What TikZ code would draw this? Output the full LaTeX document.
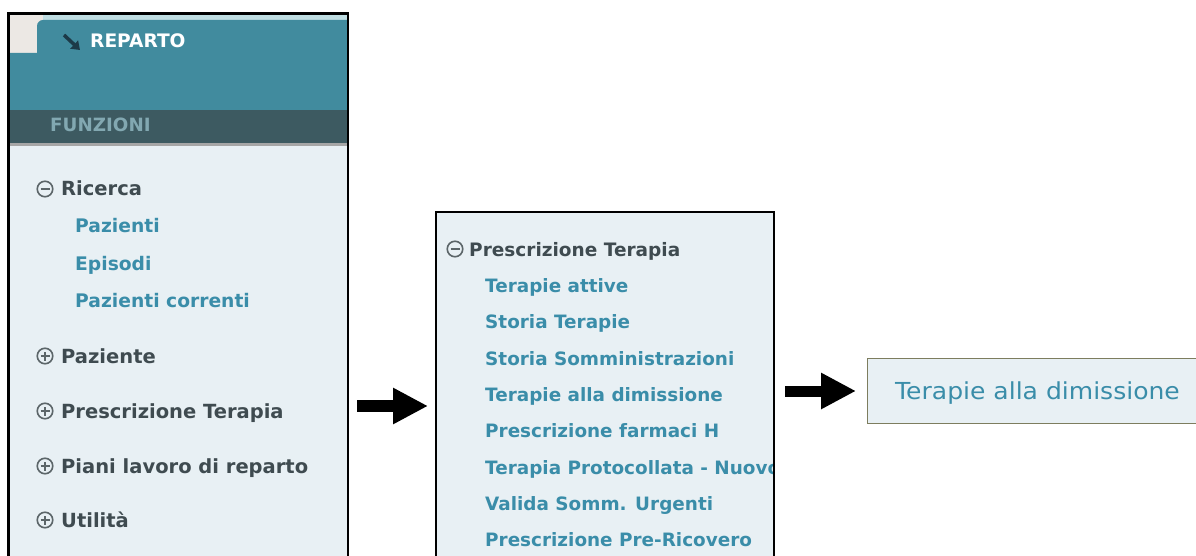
\documentclass[tikz,border=0pt]{standalone}
\usepackage{fontspec}
\newfontfamily\ui{DejaVu Sans}
\newfontfamily\uiwide[FakeStretch=1.07]{DejaVu Sans}
\usetikzlibrary{arrows.meta}
\definecolor{tealband}{HTML}{418B9E}
\definecolor{darkband}{HTML}{3D5A61}
\definecolor{panelbg}{HTML}{E8F0F4}
\definecolor{headtxt}{HTML}{3F4B50}
\definecolor{linktxt}{HTML}{3A8DA9}
\definecolor{funz}{HTML}{82A8B1}
\definecolor{beige}{HTML}{ECE8E4}
\definecolor{topstrip}{HTML}{BFDDE2}
\definecolor{boxline}{HTML}{7D7D5E}
\definecolor{iconcol}{HTML}{5C6669}
\definecolor{arrowdark}{HTML}{1C3A48}
\tikzset{
  head/.style={anchor=base west, inner sep=0pt, text=headtxt, font=\ui\bfseries\fontsize{19.5}{22}\selectfont},
  headm/.style={anchor=base west, inner sep=0pt, text=headtxt, font=\ui\bfseries\fontsize{18.5}{22}\selectfont},
  link/.style={anchor=base west, inner sep=0pt, text=linktxt, font=\ui\bfseries\fontsize{18.7}{22}\selectfont},
  linkm/.style={anchor=base west, inner sep=0pt, text=linktxt, font=\ui\bfseries\fontsize{18.4}{22}\selectfont},
  iconc/.style={circle, draw=iconcol, line width=1.6pt, minimum size=15.5pt, inner sep=0pt},
  sign/.style={draw=iconcol, line width=1.6pt},
  panelborder/.style={line width=2.6pt, draw=black},
  bigarrow/.style={line width=12pt, -{Triangle[length=35pt,width=34pt]}},
}
\begin{document}
\begin{tikzpicture}[x=1pt,y=-1pt]
\useasboundingbox (0,0) rectangle (1196,556);
\fill[white] (0,0) rectangle (1196,556);

% ---------- left panel ----------
\fill[panelbg] (9,145) rectangle (348,600);
\fill[beige] (9,13) rectangle (43,53);
\fill[topstrip] (43,13) rectangle (348,20);
\fill[tealband] (348,20) -- (43,20) arc (270:180:6) -- (37,53) -- (9,53) -- (9,110) -- (348,110) -- cycle;
\fill[darkband] (9,110) rectangle (348,145);
\fill[black!35] (9,143) rectangle (348,146);
\draw[arrowdark, line width=3.5pt, -{Triangle[length=8pt,width=11pt]}] (64,35) -- (80,50);
\node[anchor=base west, inner sep=0pt, text=white, font=\ui\bfseries\fontsize{18.6}{22}\selectfont] (rep) at (90,48) {REPARTO};
\node[anchor=base west, inner sep=0pt, text=funz, font=\ui\bfseries\fontsize{18.3}{22}\selectfont] (fun) at (50,132) {FUNZIONI};

\node[iconc] (ic1) at (45,189) {};
\draw[sign] ([xshift=-4.5pt]ic1.center) -- ([xshift=4.5pt]ic1.center);
\node[head] (ric) at (61,196) {Ricerca};
\node[link] (paz) at (75,233) {Pazienti};
\node[link] (epi) at (75,270) {Episodi};
\node[link] (pco) at (75,307) {Pazienti correnti};

\node[iconc] (ic2) at (45,356) {};
\draw[sign] ([xshift=-4.5pt]ic2.center) -- ([xshift=4.5pt]ic2.center);
\draw[sign] ([yshift=-4.5pt]ic2.center) -- ([yshift=4.5pt]ic2.center);
\node[head] (pzt) at (61,363) {Paziente};

\node[iconc] (ic3) at (45,411) {};
\draw[sign] ([xshift=-4.5pt]ic3.center) -- ([xshift=4.5pt]ic3.center);
\draw[sign] ([yshift=-4.5pt]ic3.center) -- ([yshift=4.5pt]ic3.center);
\node[head] (pre) at (61,418) {Prescrizione Terapia};

\node[iconc] (ic4) at (45,466) {};
\draw[sign] ([xshift=-4.5pt]ic4.center) -- ([xshift=4.5pt]ic4.center);
\draw[sign] ([yshift=-4.5pt]ic4.center) -- ([yshift=4.5pt]ic4.center);
\node[head] (pia) at (61,473) {Piani lavoro di reparto};

\node[iconc] (ic5) at (45,520) {};
\draw[sign] ([xshift=-4.5pt]ic5.center) -- ([xshift=4.5pt]ic5.center);
\draw[sign] ([yshift=-4.5pt]ic5.center) -- ([yshift=4.5pt]ic5.center);
\node[head] (uti) at (61,527) {Utilità};

\draw[panelborder] (8.5,600) -- (8.5,13.5) -- (348,13.5) -- (348,600);

% ---------- middle panel ----------
\fill[panelbg] (436,212) rectangle (774,600);
\begin{scope}
\clip (437,213) rectangle (773,556);
\node[iconc] (ic6) at (455,249) {};
\draw[sign] ([xshift=-4.5pt]ic6.center) -- ([xshift=4.5pt]ic6.center);
\node[headm] (mh) at (469,256) {Prescrizione Terapia};
\node[linkm] (m1) at (485,292) {Terapie attive};
\node[linkm] (m2) at (485,328) {Storia Terapie};
\node[linkm] (m3) at (485,365) {Storia Somministrazioni};
\node[linkm] (m4) at (485,401) {Terapie alla dimissione};
\node[linkm] (m5) at (485,437) {Prescrizione farmaci H};
\node[linkm] (m6) at (485,474) {Terapia Protocollata - Nuovo};
\node[linkm] (m7) at (485,510) {Valida Somm. Urgenti};
\node[linkm] (m8) at (485,546) {Prescrizione Pre-Ricovero};
\end{scope}
\draw[panelborder] (436,600) -- (436,212) -- (774,212) -- (774,600);

% ---------- right box ----------
\node[draw=boxline, fill=panelbg, line width=1.3pt, anchor=north west, minimum width=380pt, minimum height=65pt, inner sep=0pt] (rb) at (867,358) {};
\node[anchor=base, inner sep=0pt, text=linktxt, font=\uiwide\fontsize{23.4}{26}\selectfont] (rbt) at (1037.5,399) {Terapie alla dimissione};

% ---------- arrows ----------
\coordinate (a1s) at (357,406);
\coordinate (a1e) at (428,406);
\coordinate (a2s) at (785,391);
\coordinate (a2e) at (856,391);
\draw[bigarrow] (a1s) -- (a1e);
\draw[bigarrow, line width=11pt] (a2s) -- (a2e);
\end{tikzpicture}
\end{document}
